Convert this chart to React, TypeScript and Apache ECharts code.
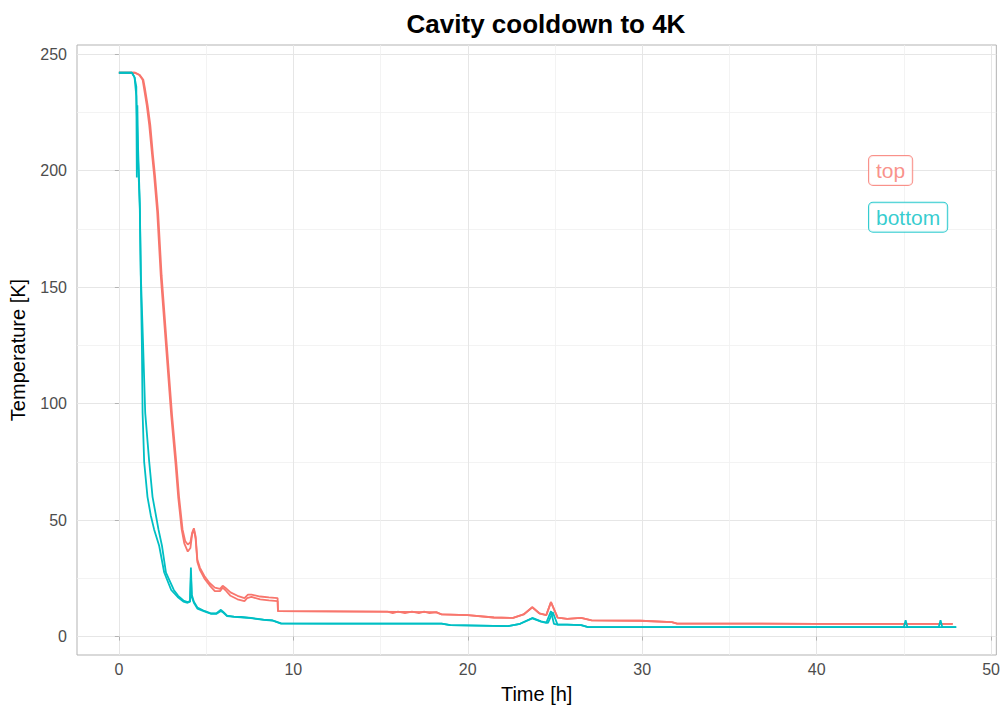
import React, { useEffect, useRef } from "react";
import * as echarts from "echarts";

const RED = "#F8766D";
const CYAN = "#00BFC4";

const xTicks = [0, 10, 20, 30, 40, 50];
const xMinor = [5, 15, 25, 35, 45];
const yTicks = [0, 50, 100, 150, 200, 250];
const yMinor = [25, 75, 125, 175, 225];

// top sensor A (lower of the pair)
const topATime = [0, 0.9, 1.17, 1.36, 1.45, 1.6, 1.74, 1.9, 2.02, 2.2, 2.4, 2.7, 3.0, 3.25, 3.4, 3.6, 3.75, 3.95, 4.1, 4.2, 4.3, 4.4, 4.5, 4.65, 4.9, 5.2, 5.5, 5.8, 5.95, 6.1, 6.4, 6.8, 7.2, 7.35, 7.6, 8.1, 8.6, 9.1, 9.12, 12, 15.4, 15.7, 16.0, 16.4, 16.8, 17.2, 17.5, 17.8, 18.2, 18.5, 20, 21.5, 22.6, 23.2, 23.7, 24.1, 24.5, 24.77, 25.15, 25.7, 26.5, 27.1, 29.9, 31.7, 32, 40, 47.8];
const topAVal = [242, 242, 241, 239, 235, 228, 219.6, 207, 198, 182, 155, 125, 95, 74, 60, 46, 40, 36.5, 38, 44, 46, 42, 32, 28.5, 25, 22, 19.5, 19.5, 21, 20, 17.5, 16, 15.2, 16.5, 17, 16, 15.5, 15.2, 10.9, 10.8, 10.7, 10.1, 10.7, 10.1, 10.7, 10.1, 10.7, 10.1, 10.4, 9.5, 9.2, 8.2, 8.0, 9.5, 12.6, 10, 9.2, 14.8, 8.1, 7.6, 8.0, 7.0, 6.8, 6.2, 5.6, 5.5, 5.5];

// top sensor B (upper of the pair)
const topBTime = [0, 0.95, 1.2, 1.4, 1.5, 1.65, 1.8, 1.95, 2.07, 2.25, 2.45, 2.75, 3.05, 3.3, 3.45, 3.65, 3.8, 3.95, 4.1, 4.2, 4.3, 4.4, 4.5, 4.65, 4.9, 5.2, 5.5, 5.8, 5.95, 6.1, 6.4, 6.8, 7.2, 7.4, 7.6, 8.1, 8.6, 9.1, 9.12, 12, 18.2, 18.5, 20, 21.5, 22.6, 23.2, 23.7, 24.1, 24.5, 24.77, 25.15, 25.7, 26.5, 27.1, 29.9, 31.7, 32, 40, 47.8];
const topBVal = [242, 242, 241, 239, 235, 228, 219.6, 207, 198, 182, 155, 125, 95, 74, 60, 46, 41, 39.5, 40.5, 44.5, 46.5, 43, 33, 29.5, 26, 23, 21, 20.5, 21.8, 21, 19, 17.5, 16.5, 18, 18, 17.2, 16.8, 16.5, 10.9, 10.8, 10.5, 9.5, 9.2, 8.2, 8.0, 9.5, 12.6, 10, 9.2, 14.8, 8.1, 7.6, 8.0, 7.0, 6.8, 6.2, 5.6, 5.5, 5.5];

// bottom sensor A (faster)
const botATime = [0, 0.75, 0.9, 1.0, 1.1, 1.2, 1.26, 1.32, 1.36, 1.45, 1.64, 1.83, 2.02, 2.31, 2.6, 3.0, 3.37, 3.7, 3.94, 4.08, 4.13, 4.18, 4.3, 4.5, 4.9, 5.27, 5.6, 5.85, 6.0, 6.2, 6.6, 7.0, 7.57, 8.3, 8.8, 9.1, 9.3, 12, 18.5, 19, 22.3, 23.0, 23.7, 24.2, 24.6, 24.87, 25.15, 25.7, 26.5, 26.9, 45.0, 45.1, 45.2, 47.0, 47.1, 47.2, 48.0];
const botAVal = [242, 242, 240, 232, 205, 184, 153, 125, 96, 75, 60, 52, 46, 39, 27.5, 20, 17, 15, 14.5, 15, 29.6, 18, 15, 12.5, 11, 10, 10, 11.5, 10.5, 9, 8.6, 8.4, 8.0, 7.3, 7.0, 6.2, 5.7, 5.6, 5.6, 4.9, 4.5, 5.5, 8.0, 6.5, 5.9, 10.5, 5.1, 5.1, 4.9, 4.1, 4.1, 7, 4.1, 4.1, 7, 4.1, 4.1];

// bottom sensor B (slower)
const botBTime = [0, 0.75, 0.9, 1.0, 1.03, 1.06, 1.1, 1.2, 1.26, 1.39, 1.51, 1.74, 1.93, 2.27, 2.47, 2.7, 3.15, 3.4, 3.7, 3.94, 4.08, 4.13, 4.18, 4.3, 4.5, 4.9, 5.27, 5.6, 5.85, 6.0, 6.2, 6.6, 7.0, 7.57, 8.3, 8.8, 9.1, 9.3, 12, 18.5, 19, 22.3, 23.0, 23.7, 24.2, 24.5, 24.77, 24.94, 25.15, 25.7, 26.5, 26.9, 48.0];
const botBVal = [242, 242, 240, 236, 197, 228, 210, 186, 155, 125, 96, 75, 60, 46, 39, 27.5, 20, 17.5, 15.5, 14.8, 15.2, 26, 17, 14.5, 12, 10.8, 9.8, 9.8, 11, 10.2, 8.8, 8.5, 8.3, 7.9, 7.2, 6.9, 6.1, 5.6, 5.6, 5.6, 4.9, 4.5, 5.5, 7.8, 6.4, 5.9, 10.9, 5.5, 5.1, 5.1, 4.9, 4.1, 4.1];

const labelX = 43.0;
const labels = [
  { name: "top", y: 200, color: RED },
  { name: "bottom", y: 180, color: CYAN },
];

const pairs = (t: number[], v: number[]) => t.map((x, i) => [x, v[i]]);

export default function App() {
  const ref = useRef<HTMLDivElement>(null);
  useEffect(() => {
    if (!ref.current) return;
    const chart = echarts.init(ref.current, undefined, { renderer: "svg" });
    const font = "Liberation Sans, Arial, sans-serif";
    const lineSeries = (name: string, data: number[][], color: string) => ({
      name,
      type: "line",
      data,
      showSymbol: false,
      symbol: "none",
      lineStyle: { color, width: 1.8 },
      xAxisIndex: 0,
      yAxisIndex: 0,
    });
    const xMin = -2.4, xMax = 50.3, yMin = -7.9, yMax = 253.9;
    chart.setOption({
      animation: false,
      backgroundColor: "#ffffff",
      textStyle: { fontFamily: font },
      title: {
        text: "Cavity cooldown to 4K",
        left: 541,
        textAlign: "center",
        top: 6,
        textStyle: { fontSize: 26, fontWeight: "bold", color: "#000000", fontFamily: font },
      },
      grid: {
        left: 77,
        right: 5,
        top: 45,
        bottom: 60,
        show: true,
        borderColor: "#B3B3B3",
        borderWidth: 1,
        backgroundColor: "transparent",
      },
      xAxis: [
        {
          type: "value",
          min: xMin,
          max: xMax,
          name: "Time [h]",
          nameLocation: "middle",
          nameGap: 29,
          nameTextStyle: { fontSize: 20, color: "#000000", fontFamily: font },
          axisLine: { show: false },
          axisTick: { show: true, length: 4, lineStyle: { color: "#B3B3B3" }, customValues: xTicks },
          axisLabel: { customValues: xTicks, fontSize: 16, color: "#4D4D4D", margin: 6, fontFamily: font },
          splitLine: { show: true, lineStyle: { color: "#E6E6E6", width: 1 } },
        },
        {
          type: "value",
          min: xMin,
          max: xMax,
          position: "bottom",
          axisLine: { show: false },
          axisTick: { show: false, customValues: xMinor },
          axisLabel: { show: false, customValues: xMinor },
          splitLine: { show: true, lineStyle: { color: "#F0F0F0", width: 0.8 } },
        },
      ],
      yAxis: [
        {
          type: "value",
          min: yMin,
          max: yMax,
          name: "Temperature [K]",
          nameLocation: "middle",
          nameGap: 49,
          nameTextStyle: { fontSize: 20, color: "#000000", fontFamily: font },
          axisLine: { show: false },
          axisTick: { show: true, length: 4, lineStyle: { color: "#B3B3B3" }, customValues: yTicks },
          axisLabel: { customValues: yTicks, fontSize: 16, color: "#4D4D4D", margin: 10, fontFamily: font },
          splitLine: { show: true, lineStyle: { color: "#E6E6E6", width: 1 } },
        },
        {
          type: "value",
          min: yMin,
          max: yMax,
          position: "left",
          axisLine: { show: false },
          axisTick: { show: false, customValues: yMinor },
          axisLabel: { show: false, customValues: yMinor },
          splitLine: { show: true, lineStyle: { color: "#F0F0F0", width: 0.8 } },
        },
      ],
      series: [
        lineSeries("top A", pairs(topATime, topAVal), RED),
        lineSeries("top B", pairs(topBTime, topBVal), RED),
        lineSeries("bottom A", pairs(botATime, botAVal), CYAN),
        lineSeries("bottom B", pairs(botBTime, botBVal), CYAN),
        ...labels.map((l) => ({
          type: "scatter",
          xAxisIndex: 0,
          yAxisIndex: 0,
          symbolSize: 0,
          data: [[labelX, l.y]],
          z: 10,
          label: {
            show: true,
            position: "right",
            distance: 0,
            formatter: l.name,
            fontSize: 21,
            lineHeight: 23,
            fontFamily: font,
            color: l.color,
            backgroundColor: "#ffffff",
            borderColor: l.color,
            borderWidth: 1,
            borderRadius: 4,
            padding: [3, 7, 3, 7],
          },
        })),
      ],
    });
    return () => chart.dispose();
  }, []);
  return (
    <div
      ref={ref}
      style={{ position: "absolute", left: 0, top: 0, width: 1003, height: 715 }}
    />
  );
}
